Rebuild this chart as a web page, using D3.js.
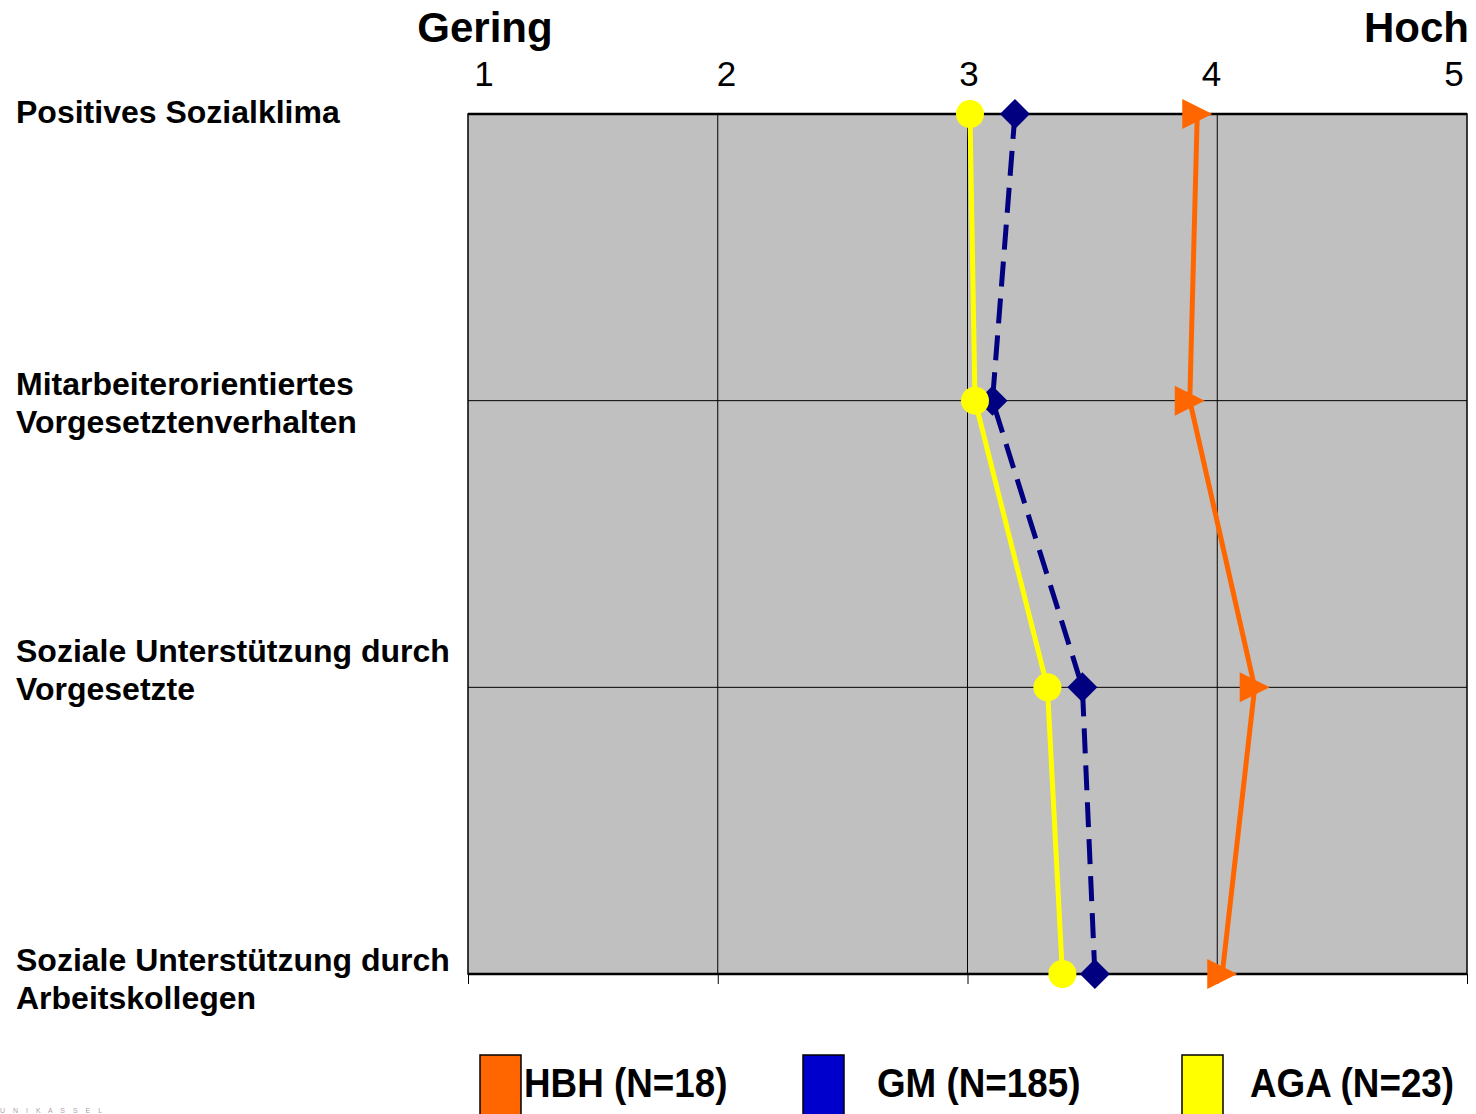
<!DOCTYPE html>
<html>
<head>
<meta charset="utf-8">
<script src="https://cdn.jsdelivr.net/npm/d3@7"></script>
<style>
  body { margin: 0; background: #fff; }
  svg { display: block; font-family: "Liberation Sans", Arial, sans-serif; }
</style>
</head>
<body>
<div id="chart"></div>
<script>
// data
let categories = [
  ["Positives Sozialklima"],
  ["Mitarbeiterorientiertes", "Vorgesetztenverhalten"],
  ["Soziale Unterstützung durch", "Vorgesetzte"],
  ["Soziale Unterstützung durch", "Arbeitskollegen"]
]
let hbh = [3.92, 3.89, 4.15, 4.02]
let gm  = [3.19, 3.10, 3.46, 3.51]
let aga = [3.01, 3.03, 3.32, 3.38]
let tickValues = [1, 2, 3, 4, 5]
let seriesNames = ["HBH (N=18)", "GM (N=185)", "AGA (N=23)"]

// label nudges (layout only)
let labelFirstLineOffset = [9, -6, -25, -3]

let width = 1476;
let height = 1114;

let plot = {left: 468, right: 1467, top: 114, bottom: 974}

let x = d3.scaleLinear().domain([1, 5]).range([plot.left, plot.right])
// the tick numbers sit a bit inside the grid in the original
let xLabel = d3.scaleLinear().domain([1, 5]).range([484, 1454])
let y = d3.scalePoint().domain(d3.range(categories.length)).range([plot.top, plot.bottom])

let svg = d3.select("#chart").append("svg")
  .attr("width", width)
  .attr("height", height)

// plot background
svg.append("rect")
  .attr("x", plot.left)
  .attr("y", plot.top)
  .attr("width", plot.right - plot.left)
  .attr("height", plot.bottom - plot.top)
  .style("fill", "#c0c0c0")
  .style("stroke", "#000")
  .style("stroke-width", 1.5)

// vertical grid
svg.selectAll(".vgrid")
  .data(tickValues.slice(1, -1))
  .join("line")
  .attr("class", "vgrid")
  .attr("x1", d => x(d)).attr("x2", d => x(d))
  .attr("y1", plot.top).attr("y2", plot.bottom)
  .style("stroke", "#000").style("stroke-width", 1)

// horizontal grid
svg.selectAll(".hgrid")
  .data(d3.range(1, categories.length - 1))
  .join("line")
  .attr("class", "hgrid")
  .attr("x1", plot.left).attr("x2", plot.right)
  .attr("y1", d => y(d)).attr("y2", d => y(d))
  .style("stroke", "#000").style("stroke-width", 1)

// top and bottom borders heavier
svg.selectAll(".border")
  .data([plot.top, plot.bottom])
  .join("line")
  .attr("x1", plot.left).attr("x2", plot.right)
  .attr("y1", d => d).attr("y2", d => d)
  .style("stroke", "#000").style("stroke-width", 2.5)

// bottom axis ticks
let bottomAxis = d3.axisBottom(x).tickValues(tickValues).tickSize(10).tickFormat("")
svg.append("g")
  .attr("transform", `translate(0,${plot.bottom})`)
  .call(bottomAxis)
  .call(g => g.select(".domain").remove())
  .call(g => g.selectAll(".tick line").style("stroke", "#000").style("stroke-width", 1))

// top tick numbers
svg.selectAll(".ticklabel")
  .data(tickValues)
  .join("text")
  .attr("x", d => xLabel(d))
  .attr("y", 86)
  .attr("text-anchor", "middle")
  .style("font-size", "35px")
  .text(d => d)

svg.append("text")
  .attr("x", 485).attr("y", 42)
  .attr("text-anchor", "middle")
  .style("font-size", "42px").style("font-weight", "bold")
  .text("Gering")

svg.append("text")
  .attr("x", 1469).attr("y", 42)
  .attr("text-anchor", "end")
  .style("font-size", "42px").style("font-weight", "bold")
  .text("Hoch")

// category labels
categories.forEach(function(lines, i) {
  let t = svg.append("text")
    .attr("x", 16)
    .attr("y", y(i) + labelFirstLineOffset[i])
    .style("font-size", "32px").style("font-weight", "bold")
  lines.forEach(function(line, j) {
    t.append("tspan").attr("x", 16).attr("dy", j == 0 ? 0 : 38).text(line)
  })
})

// lines
let line = d3.line()
  .x(d => x(d))
  .y((d, i) => y(i))

svg.append("path")
  .datum(hbh)
  .attr("d", line)
  .style("fill", "none").style("stroke", "#ff6600").style("stroke-width", 5)

svg.append("path")
  .datum(gm)
  .attr("d", line)
  .style("fill", "none").style("stroke", "#000080").style("stroke-width", 5)
  .style("stroke-dasharray", "25,12")

svg.append("path")
  .datum(aga)
  .attr("d", line)
  .style("fill", "none").style("stroke", "#ffff00").style("stroke-width", 5)

// markers
svg.selectAll(".tri")
  .data(hbh)
  .join("path")
  .attr("class", "tri")
  .attr("d", "M-15,-15L15,0L-15,15Z")
  .attr("transform", (d, i) => `translate(${x(d)},${y(i)})`)
  .style("fill", "#ff6600")

svg.selectAll(".dia")
  .data(gm)
  .join("path")
  .attr("class", "dia")
  .attr("d", "M0,-15L15,0L0,15L-15,0Z")
  .attr("transform", (d, i) => `translate(${x(d)},${y(i)})`)
  .style("fill", "#000080")

svg.selectAll(".dot")
  .data(aga)
  .join("circle")
  .attr("class", "dot")
  .attr("cx", d => x(d))
  .attr("cy", (d, i) => y(i))
  .attr("r", 14)
  .style("fill", "#ffff00")

// legend
let legendColors = ["#ff6600", "#0000cc", "#ffff00"]
let legendX = [480, 803, 1182]
let legendTextX = [524, 877, 1250]

let legend = svg.selectAll(".legend")
  .data(seriesNames)
  .join("g")
  .attr("class", "legend")

legend.append("rect")
  .attr("x", (d, i) => legendX[i])
  .attr("y", 1055)
  .attr("width", 41)
  .attr("height", 70)
  .style("fill", (d, i) => legendColors[i])
  .style("stroke", "#000").style("stroke-width", 1.5)

legend.append("text")
  .attr("transform", (d, i) => `translate(${legendTextX[i]},1097) scale(0.92,1)`)
  .style("font-size", "40px").style("font-weight", "bold")
  .text(d => d)

// tiny logo text bottom left
svg.append("text")
  .attr("x", 0).attr("y", 1113)
  .style("font-size", "7px").style("fill", "#b0a0b0").style("letter-spacing", "3px")
  .text("U N I K A S S E L")
</script>
</body>
</html>
